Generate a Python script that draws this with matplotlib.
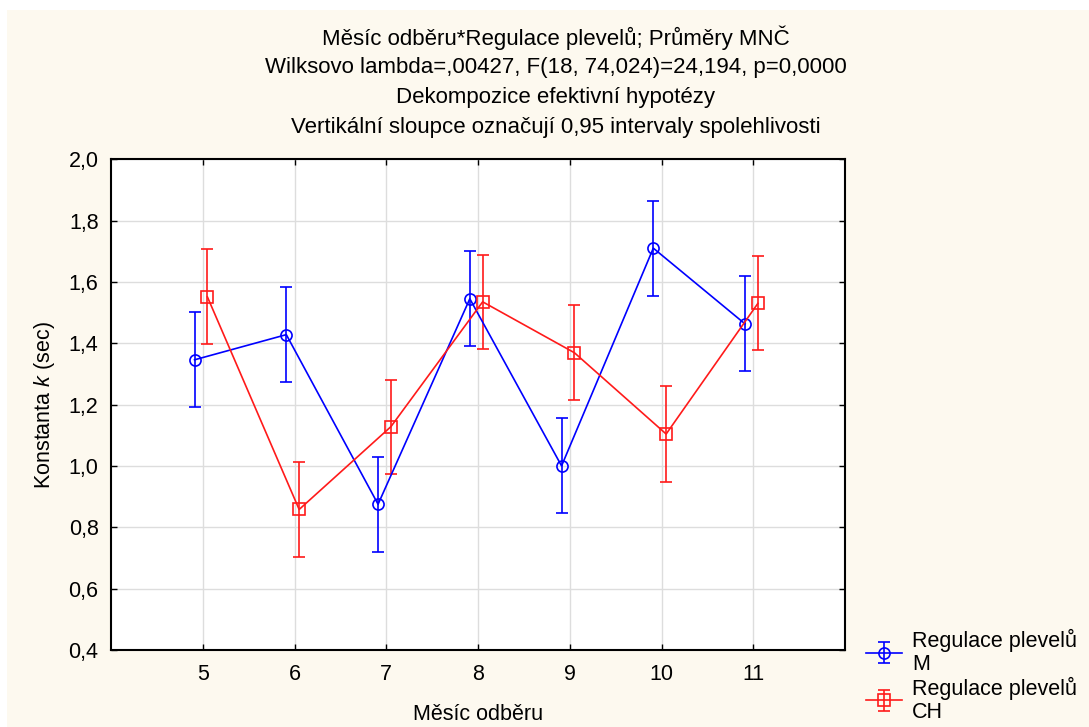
import numpy as np
import matplotlib
matplotlib.use("Agg")
import matplotlib.pyplot as plt
from matplotlib.ticker import FuncFormatter, MultipleLocator

plt.rcParams['font.family'] = ['Liberation Sans', 'DejaVu Sans']
plt.rcParams['mathtext.fontset'] = 'custom'
plt.rcParams['mathtext.it'] = 'Liberation Sans:italic'
plt.rcParams['mathtext.rm'] = 'Liberation Sans'

# data
months = [5, 6, 7, 8, 9, 10, 11]
mean_m = [1.346, 1.428, 0.875, 1.545, 1.000, 1.710, 1.463]
ci_m = [0.155, 0.155, 0.155, 0.155, 0.155, 0.155, 0.155]
mean_ch = [1.551, 0.858, 1.128, 1.535, 1.369, 1.104, 1.530]
ci_ch = [0.155, 0.155, 0.153, 0.153, 0.155, 0.155, 0.153]

title_lines = [
    "Měsíc odběru*Regulace plevelů; Průměry MNČ",
    "Wilksovo lambda=,00427, F(18, 74,024)=24,194, p=0,0000",
    "Dekompozice efektivní hypotézy",
    "Vertikální sloupce označují 0,95 intervaly spolehlivosti",
]

fig = plt.figure(figsize=(10.89, 7.27), dpi=100)
fig.patch.set_facecolor('white')
# cream background of the graph window
fig.patches.append(plt.Rectangle((0.006, 0.0), 0.994, 0.986, transform=fig.transFigure,
                                 facecolor='#fdf9ef', edgecolor='none', zorder=-10))

ax = fig.add_axes([0.102, 0.106, 0.674, 0.675])
ax.set_facecolor('white')

x = np.array(months, dtype=float)
ax.errorbar(x - 0.09, mean_m, yerr=ci_m, color='#0000ff', lw=1.2, marker='o', ms=8,
            mfc='none', mec='#0000ff', mew=1.2, capsize=4.5, capthick=1.2, elinewidth=1.2,
            label='Regulace plevelů\nM', zorder=3)
ax.errorbar(x + 0.05, mean_ch, yerr=ci_ch, color='#ff1a1a', lw=1.2, marker='s', ms=8,
            mfc='none', mec='#ff1a1a', mew=1.2, capsize=4.5, capthick=1.2, elinewidth=1.2,
            label='Regulace plevelů\nCH', zorder=3)

ax.set_xlim(4, 12)
ax.set_ylim(0.4, 2.0)
ax.set_xticks(months)
ax.yaxis.set_major_locator(MultipleLocator(0.2))
ax.yaxis.set_major_formatter(FuncFormatter(lambda v, _: f"{v:.1f}".replace('.', ',')))
ax.grid(True, color='#dddddd', lw=1.0, zorder=0)
ax.set_axisbelow(True)
ax.tick_params(direction='in', length=4, width=1, top=True, right=True, labelsize=15.5)
ax.tick_params(axis='x', pad=10)
ax.tick_params(axis='y', pad=9)
for s in ax.spines.values():
    s.set_linewidth(1.5)
    s.set_color('black')

ax.set_xlabel("Měsíc odběru", fontsize=15.5, labelpad=14)
ax.set_ylabel(r"Konstanta $\it{k}$ (sec)", fontsize=15.5, labelpad=8)

for i, line in enumerate(title_lines):
    fig.text(0.51, 1 - (38 + 30 * i) / 727, line, ha='center', va='center', fontsize=16)

leg = fig.legend(loc='lower left', bbox_to_anchor=(0.777, -0.021), frameon=False,
                 fontsize=15.5, handlelength=1.7, labelspacing=0.1, handletextpad=0.45)
for t in leg.get_texts():
    t.set_linespacing(1.1)

fig.savefig("out.png", dpi=100, facecolor=fig.get_facecolor())
